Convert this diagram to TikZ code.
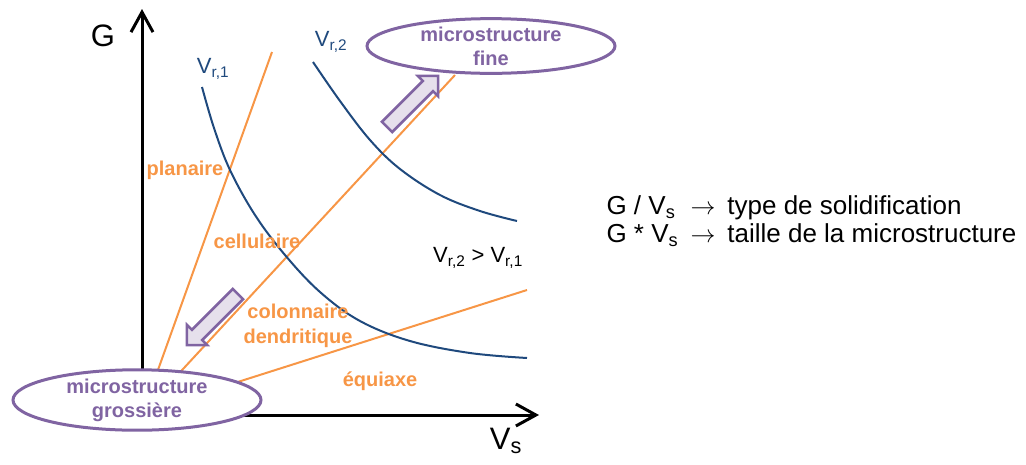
\documentclass[tikz,border=0pt]{standalone}
\usepackage{fontspec}
\setmainfont{Liberation Sans}
\usetikzlibrary{arrows.meta,shapes.geometric,shapes.arrows}
\definecolor{cpurple}{HTML}{8064A2}
\definecolor{clav}{HTML}{E6E0EC}
\definecolor{corange}{HTML}{F79646}
\definecolor{cnavy}{HTML}{1F497D}
\newcommand{\mysub}[1]{\textsubscript{#1}}
\newcommand{\noteline}[2]{\makebox[84pt][l]{#1}$\rightarrow$\hspace{12pt}#2}
\begin{document}
\begin{tikzpicture}[x=1pt,y=-1pt,
  axisline/.style={line width=3pt,line join=miter,{Straight Barb[length=20pt,width=22pt]}-{Straight Barb[length=20pt,width=22pt]}},
  regline/.style={corange,line width=2pt},
  isocurve/.style={cnavy,line width=2pt},
  micro/.style={ellipse,draw=cpurple,line width=3pt,fill=white,text=cpurple,
    minimum width=248pt,minimum height=54pt,inner sep=0pt,align=center,
    font=\fontsize{20}{24}\selectfont\bfseries},
  reglabel/.style={text=corange,align=center,font=\fontsize{20}{25}\selectfont\bfseries},
  vrlabel/.style={text=cnavy,font=\fontsize{22}{26}\selectfont},
  blockarrow/.style={single arrow,draw=cpurple,line width=2.5pt,fill=clav,
    minimum height=72pt,inner sep=6pt,single arrow head extend=7pt}]
\useasboundingbox (0,0) rectangle (1026,464);
% axes
\coordinate (Gtop) at (142,9);
\coordinate (O) at (142,415);
\coordinate (Vend) at (539,415);
\draw[axisline] (Gtop) -- (O) -- (Vend);
\node (G) at (103,36) {\fontsize{31}{34}\selectfont G};
\node (Vs) at (506,441) {\fontsize{31}{34}\selectfont V\mysub{s}};
% regime boundaries
\coordinate (a1) at (149,395); \coordinate (a2) at (272,52);
\coordinate (b1) at (159,395); \coordinate (b2) at (455,75);
\coordinate (c1) at (200,394); \coordinate (c2) at (527,290);
\draw[regline] (a1) -- (a2);
\draw[regline] (b1) -- (b2);
\draw[regline] (c1) -- (c2);
% iso-velocity curves
\draw[isocurve] plot[smooth,tension=0.6] coordinates {(202,87) (214,128) (230,170) (255,215) (285,255) (320,292) (360,321) (410,341) (470,353) (527,358)};
\draw[isocurve] plot[smooth,tension=0.6] coordinates {(313,62) (340,101) (370,140) (400,169) (440,195) (480,211) (517,221)};
\node[vrlabel] (vr1) at (213,69) {V\mysub{r,1}};
\node[vrlabel] (vr2) at (331,42) {V\mysub{r,2}};
\node[vrlabel,text=black] (vrcmp) at (478,258) {V\mysub{r,2} > V\mysub{r,1}};
% regime labels
\node[reglabel] (plan) at (185,170) {planaire};
\node[reglabel] (cell) at (257,241) {cellulaire};
\node[reglabel] (colo) at (298,326) {colonnaire\\dendritique};
\node[reglabel] (equi) at (380,381) {équiaxe};
% block arrows
\node[blockarrow,rotate=45] (up) at (410,104) {};
\node[blockarrow,rotate=225] (down) at (215,317) {};
% microstructure ellipses
\node[micro] (coarse) at (137,400) {microstructure\\grossière};
\node[micro] (fine) at (491,46) {microstructure\\fine};
% notes
\node[anchor=west,align=left,font=\fontsize{26}{28}\selectfont] (notes) at (603,221)
  {\noteline{G / V\mysub{s}}{type de solidification}\\\noteline{G * V\mysub{s}}{taille de la microstructure}};
\end{tikzpicture}
\end{document}
